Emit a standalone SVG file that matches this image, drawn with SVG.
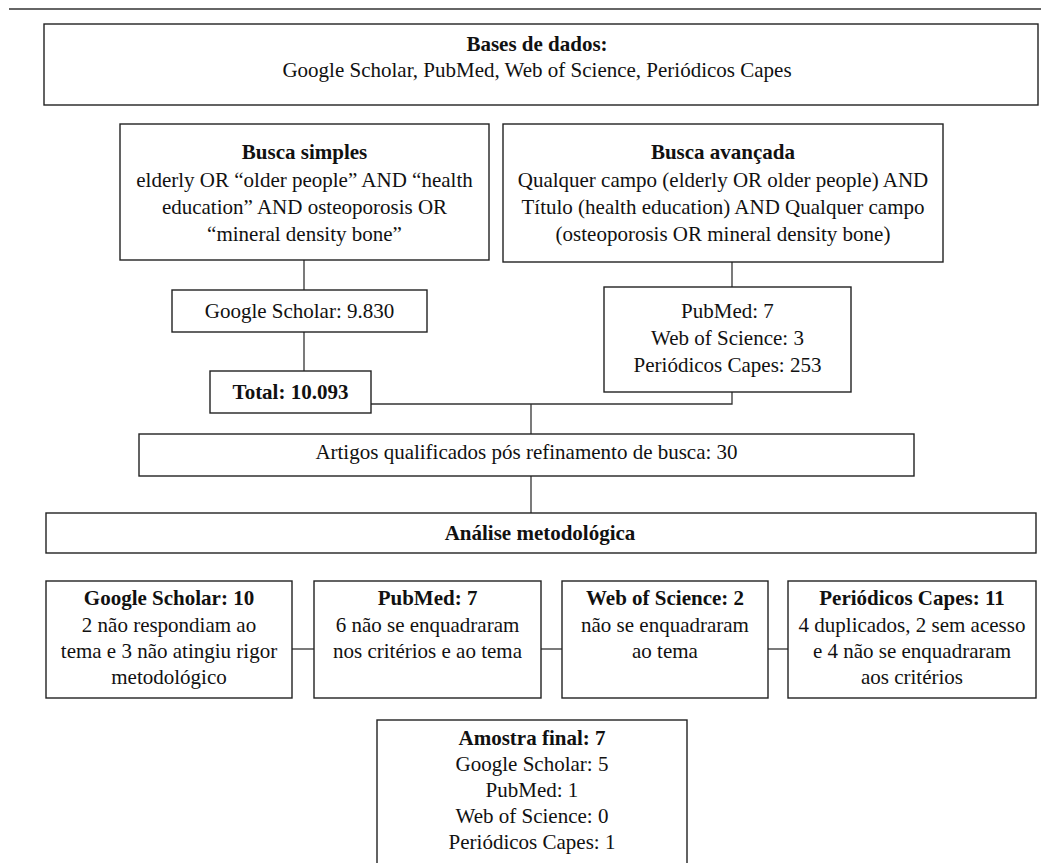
<svg xmlns="http://www.w3.org/2000/svg" width="1041" height="863" viewBox="0 0 1041 863">
<style>
.box{fill:#fff;stroke:#222;stroke-width:1.4}
.ln{fill:none;stroke:#333;stroke-width:1.3}
text{font-family:"Liberation Serif","Times New Roman",serif;font-size:21px;fill:#111;text-anchor:middle}
.b{font-weight:bold}
</style>
<rect width="1041" height="863" fill="#fff"/>
<line x1="9" y1="9" x2="1041" y2="9" stroke="#666" stroke-width="2"/>
<g id="connectors">
<line class="ln" x1="304" y1="260" x2="304" y2="290"/>
<line class="ln" x1="304" y1="332" x2="304" y2="371"/>
<line class="ln" x1="732" y1="262" x2="732" y2="287"/>
<polyline class="ln" points="371,404 732,404 732,392"/>
<line class="ln" x1="531" y1="404" x2="531" y2="434"/>
<line class="ln" x1="531" y1="476" x2="531" y2="513"/>
<line class="ln" x1="292" y1="649" x2="314" y2="649"/>
<line class="ln" x1="541" y1="649" x2="562" y2="649"/>
<line class="ln" x1="768" y1="649" x2="788" y2="649"/>
</g>
<g id="bases">
<rect class="box" x="44" y="24" width="994" height="81"/>
<text class="b" x="537" y="51">Bases de dados:</text>
<text x="537" y="77">Google Scholar, PubMed, Web of Science, Periódicos Capes</text>
</g>
<g id="busca-simples">
<rect class="box" x="120" y="124" width="369" height="136"/>
<text class="b" x="304.5" y="159">Busca simples</text>
<text x="304.5" y="187">elderly OR “older people” AND “health</text>
<text x="304.5" y="214">education” AND osteoporosis OR</text>
<text x="304.5" y="241">“mineral density bone”</text>
</g>
<g id="busca-avancada">
<rect class="box" x="503" y="124" width="440" height="138"/>
<text class="b" x="723" y="159">Busca avançada</text>
<text x="723" y="187">Qualquer campo (elderly OR older people) AND</text>
<text x="723" y="214">Título (health education) AND Qualquer campo</text>
<text x="723" y="241">(osteoporosis OR mineral density bone)</text>
</g>
<g id="google-scholar">
<rect class="box" x="172" y="290" width="255" height="42"/>
<text x="299.5" y="318">Google Scholar: 9.830</text>
</g>
<g id="outras-bases">
<rect class="box" x="604" y="287" width="247" height="105"/>
<text x="727.5" y="318">PubMed: 7</text>
<text x="727.5" y="345">Web of Science: 3</text>
<text x="727.5" y="372">Periódicos Capes: 253</text>
</g>
<g id="total">
<rect class="box" x="210" y="371" width="161" height="42"/>
<text class="b" x="290.5" y="399">Total: 10.093</text>
</g>
<g id="artigos">
<rect class="box" x="139" y="434" width="775" height="42"/>
<text x="526.5" y="459">Artigos qualificados pós refinamento de busca: 30</text>
</g>
<g id="analise">
<rect class="box" x="46" y="513" width="990" height="40"/>
<text class="b" x="540" y="540">Análise metodológica</text>
</g>
<g id="gs10">
<rect class="box" x="46" y="581" width="246" height="117"/>
<text class="b" x="169" y="605">Google Scholar: 10</text>
<text x="169" y="632">2 não respondiam ao</text>
<text x="169" y="658">tema e 3 não atingiu rigor</text>
<text x="169" y="684">metodológico</text>
</g>
<g id="pubmed7">
<rect class="box" x="314" y="581" width="227" height="117"/>
<text class="b" x="427.5" y="605">PubMed: 7</text>
<text x="427.5" y="632">6 não se enquadraram</text>
<text x="427.5" y="658">nos critérios e ao tema</text>
</g>
<g id="wos2">
<rect class="box" x="562" y="581" width="206" height="117"/>
<text class="b" x="665" y="605">Web of Science: 2</text>
<text x="665" y="632">não se enquadraram</text>
<text x="665" y="658">ao tema</text>
</g>
<g id="capes11">
<rect class="box" x="788" y="581" width="248" height="117"/>
<text class="b" x="912" y="605">Periódicos Capes: 11</text>
<text x="912" y="632">4 duplicados, 2 sem acesso</text>
<text x="912" y="658">e 4 não se enquadraram</text>
<text x="912" y="684">aos critérios</text>
</g>
<g id="amostra">
<rect class="box" x="377" y="720" width="310" height="160"/>
<text class="b" x="532" y="745">Amostra final: 7</text>
<text x="532" y="771">Google Scholar: 5</text>
<text x="532" y="797">PubMed: 1</text>
<text x="532" y="823">Web of Science: 0</text>
<text x="532" y="849">Periódicos Capes: 1</text>
</g>
</svg>
